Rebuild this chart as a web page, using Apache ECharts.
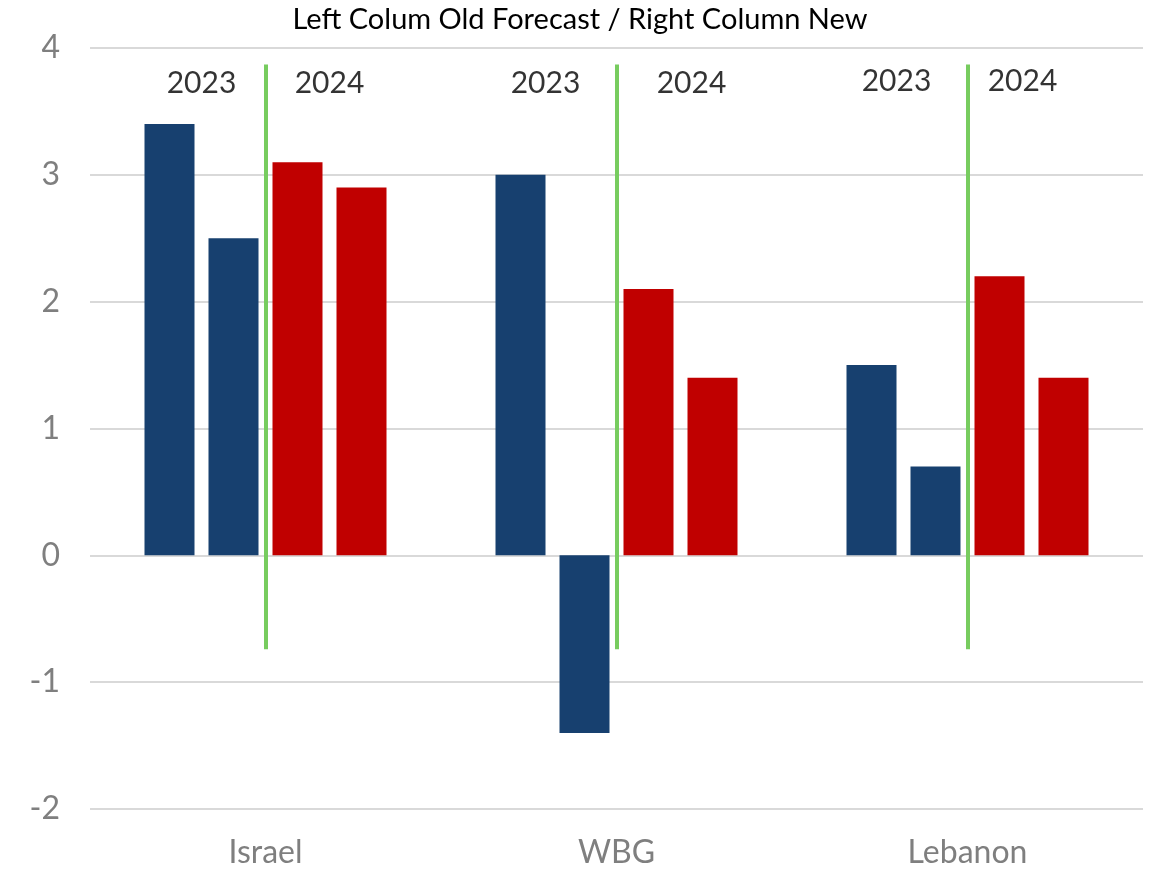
<!DOCTYPE html>
<html>
<head>
<meta charset="utf-8">
<script src="https://cdn.jsdelivr.net/npm/echarts@6/dist/echarts.min.js"></script>
<style>html,body{margin:0;padding:0;background:#fff}#c{width:1160px;height:869px}</style>
</head>
<body>
<div id="c"></div>
<script>
const titleText = 'Left Colum Old Forecast / Right Column New';
const categories = ['Israel', 'WBG', 'Lebanon'];
const yearLabels = ['2023', '2024'];
const old2023 = [3.4, 3.0, 1.5];
const new2023 = [2.5, -1.4, 0.7];
const old2024 = [3.1, 2.1, 2.2];
const new2024 = [2.9, 1.4, 1.4];
const yTicks = { min: -2, max: 4, interval: 1 };

// styling / placement constants
const BLUE = '#17406f', RED = '#c00000', GREEN = '#77cc5f';
const dividerRange = [3.87, -0.74];
const yearLabelY = [3.72, 3.72, 3.74];
const yearLabelOffsets = [[[-64, 0], [64, 0]], [[-71, 0], [75, 0]], [[-71, 0], [55, 0]]];

const chart = echarts.init(document.getElementById('c'), null, { renderer: 'canvas' });

function barSeries(name, data, color) {
  return { name, type: 'bar', data, barWidth: 50, barGap: '28%', itemStyle: { color }, z: 3 };
}

const dividerLines = categories.map(c => [
  { coord: [c, dividerRange[0]] },
  { coord: [c, dividerRange[1]] }
]);

const labelSeries = yearLabels.map((yr, k) => ({
  type: 'scatter',
  symbolSize: 0,
  silent: true,
  z: 5,
  data: categories.map((c, i) => ({
    value: [c, yearLabelY[i]],
    label: { show: true, formatter: yr, offset: yearLabelOffsets[i][k], position: 'inside',
      color: '#000', fontSize: 30, fontFamily: 'Lato' }
  }))
}));
labelSeries[0].markLine = {
  silent: true, symbol: 'none', animation: false,
  lineStyle: { color: GREEN, width: 4, type: 'solid' }, label: { show: false },
  data: dividerLines
};

chart.setOption({
  animation: false,
  title: { text: titleText, left: 'center', top: 0,
    textStyle: { fontFamily: 'Lato', fontSize: 29, fontWeight: 'normal', color: '#000' } },
  grid: { left: 90, right: 17, top: 48, bottom: 59 },
  xAxis: {
    type: 'category', data: categories,
    axisLine: { show: false }, axisTick: { show: false },
    axisLabel: { color: '#7f7f7f', fontSize: 32, fontFamily: 'Lato', margin: 28 }
  },
  yAxis: {
    type: 'value', min: yTicks.min, max: yTicks.max, interval: yTicks.interval,
    axisLine: { show: false }, axisTick: { show: false },
    axisLabel: { color: '#7f7f7f', fontSize: 32, fontFamily: 'Lato', margin: 30 },
    splitLine: { lineStyle: { color: '#d9d9d9', width: 2 } }
  },
  series: [
    barSeries('Old 2023', old2023, BLUE),
    barSeries('New 2023', new2023, BLUE),
    barSeries('Old 2024', old2024, RED),
    barSeries('New 2024', new2024, RED),
    ...labelSeries
  ]
});
</script>
</body>
</html>
